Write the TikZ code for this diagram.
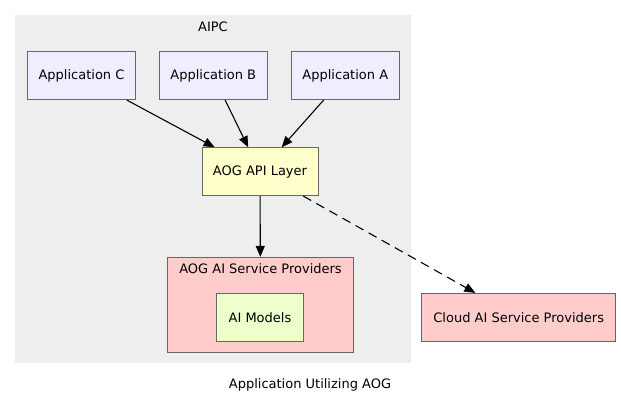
\documentclass[tikz,border=0pt]{standalone}
\usepackage{fontspec}
\setmainfont{DejaVu Sans}
\usetikzlibrary{arrows.meta}

\definecolor{appfill}{HTML}{EEEEFF}
\definecolor{apifill}{HTML}{FFFFCC}
\definecolor{provfill}{HTML}{FFCCCC}
\definecolor{modelfill}{HTML}{EEFFCC}
\definecolor{clusterfill}{HTML}{EEEEEE}
\definecolor{edgegray}{HTML}{666666}

\begin{document}
\begin{tikzpicture}[x=1pt,y=-1pt,
	font=\fontsize{13}{15}\selectfont,
	box/.style={draw=edgegray,line width=0.8pt,rectangle,inner sep=0pt},
	app/.style={box,fill=appfill,minimum width=108pt,minimum height=48pt},
	flow/.style={-{Triangle[length=11pt,width=9pt]},line width=1.1pt}]

	\useasboundingbox (0,0) rectangle (621,404);

	% cluster AIPC
	\fill[clusterfill] (15,15) rectangle (410.5,362.5);
	\node (aipc) at (213,27) {AIPC};

	\node[app] (appc) at (81.5,75.7) {Application C};
	\node[app] (appb) at (213.3,75.7) {Application B};
	\node[app] (appa) at (345.3,75.7) {Application A};

	\node[box,fill=apifill,minimum width=116pt,minimum height=48pt] (api) at (260,171.7) {AOG API Layer};

	% cluster AOG AI Service Providers
	\node[box,fill=provfill,minimum width=185.6pt,minimum height=94.7pt] (aogsp) at (260.5,304.7) {};
	\node (aogsplabel) at (260.5,269) {AOG AI Service Providers};
	\node[box,fill=modelfill,minimum width=87.4pt,minimum height=48pt] (models) at (260,317.3) {AI Models};

	\node[box,fill=provfill,minimum width=194pt,minimum height=48pt] (cloud) at (518.7,317.3) {Cloud AI Service Providers};

	\draw[flow] (appc) -- (api);
	\draw[flow] (appb) -- (api);
	\draw[flow] (appa) -- (api);
	\draw[flow] (api) -- (aogsp);
	\draw[flow,dash pattern=on 9pt off 6pt] (api) -- (cloud);

	\node (caption) at (310,385) {Application Utilizing AOG};

\end{tikzpicture}
\end{document}
